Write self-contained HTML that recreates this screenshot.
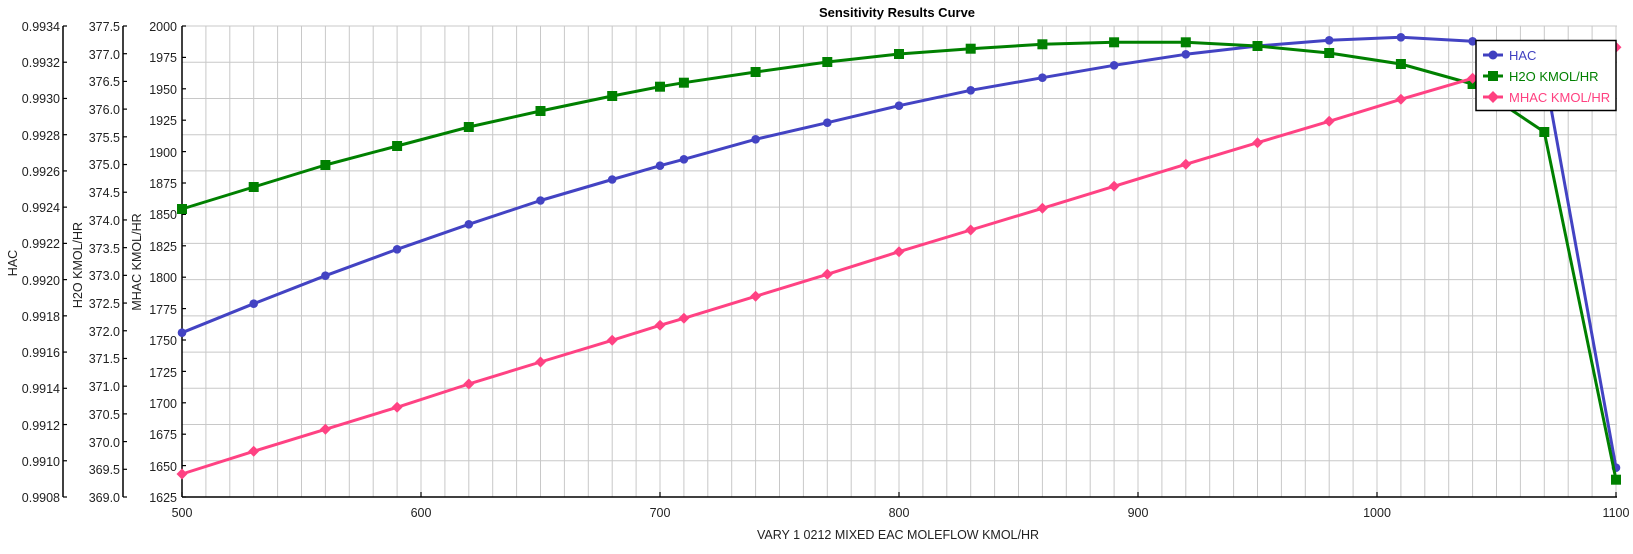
<!DOCTYPE html>
<html><head><meta charset="utf-8"><style>
html,body{margin:0;padding:0;background:#fff;}
svg{display:block;font-family:"Liberation Sans",sans-serif;}
</style></head><body>
<svg id="s" width="1633" height="554" viewBox="0 0 1633 554" xmlns="http://www.w3.org/2000/svg">
<g id="grid" stroke="#c8c8c8" stroke-width="1"></g>
<text x="897" y="17" text-anchor="middle" font-size="13" font-weight="bold">Sensitivity Results Curve</text>
<!-- axes -->
<g stroke="#000" stroke-width="1.5" fill="none">
<line x1="182" y1="26" x2="182" y2="497"/>
<line x1="182" y1="497" x2="1617" y2="497"/>
<line x1="63" y1="26" x2="63" y2="497"/>
<line x1="123" y1="26" x2="123" y2="497"/>
</g>
<g id="ticks" stroke="#000" stroke-width="1.2"></g>
<g font-size="12.5" fill="#222" text-anchor="end">
<text x="60" y="31">0.9934</text><text x="60" y="67">0.9932</text><text x="60" y="103">0.9930</text><text x="60" y="140">0.9928</text><text x="60" y="176">0.9926</text><text x="60" y="212">0.9924</text><text x="60" y="248">0.9922</text><text x="60" y="285">0.9920</text><text x="60" y="321">0.9918</text><text x="60" y="357">0.9916</text><text x="60" y="393">0.9914</text><text x="60" y="430">0.9912</text><text x="60" y="466">0.9910</text><text x="60" y="502">0.9908</text>
<text x="120" y="31">377.5</text><text x="120" y="59">377.0</text><text x="120" y="86">376.5</text><text x="120" y="114">376.0</text><text x="120" y="142">375.5</text><text x="120" y="169">375.0</text><text x="120" y="197">374.5</text><text x="120" y="225">374.0</text><text x="120" y="253">373.5</text><text x="120" y="280">373.0</text><text x="120" y="308">372.5</text><text x="120" y="336">372.0</text><text x="120" y="363">371.5</text><text x="120" y="391">371.0</text><text x="120" y="419">370.5</text><text x="120" y="447">370.0</text><text x="120" y="474">369.5</text><text x="120" y="502">369.0</text>
<text x="177" y="31">2000</text><text x="177" y="62">1975</text><text x="177" y="94">1950</text><text x="177" y="125">1925</text><text x="177" y="157">1900</text><text x="177" y="188">1875</text><text x="177" y="219">1850</text><text x="177" y="251">1825</text><text x="177" y="282">1800</text><text x="177" y="314">1775</text><text x="177" y="345">1750</text><text x="177" y="377">1725</text><text x="177" y="408">1700</text><text x="177" y="439">1675</text><text x="177" y="471">1650</text><text x="177" y="502">1625</text>
</g>
<g font-size="12.5" fill="#222" text-anchor="middle">
<text x="182" y="517">500</text><text x="421" y="517">600</text><text x="660" y="517">700</text><text x="899" y="517">800</text><text x="1138" y="517">900</text><text x="1377" y="517">1000</text><text x="1616" y="517">1100</text>
<text x="898" y="539">VARY   1 0212 MIXED EAC MOLEFLOW KMOL/HR</text>
<text transform="translate(17,263) rotate(-90)">HAC</text>
<text transform="translate(82,265) rotate(-90)">H2O KMOL/HR</text>
<text transform="translate(141,262) rotate(-90)">MHAC KMOL/HR</text>
</g>
<g id="series" stroke-width="3" fill="none" stroke-linejoin="round"></g>
<g id="leg">
<rect x="1476" y="40.5" width="140" height="70" fill="#fff" stroke="#000" stroke-width="1.5"/>
<line x1="1483" y1="55" x2="1503" y2="55" stroke="#4040c0" stroke-width="3"/><circle cx="1493" cy="55" r="4.5" fill="#4040c0"/>
<text x="1509" y="60" font-size="13" fill="#4040c0">HAC</text>
<line x1="1483" y1="76" x2="1503" y2="76" stroke="#008000" stroke-width="3"/><rect x="1488" y="71" width="10" height="10" fill="#008000"/>
<text x="1509" y="81" font-size="13" fill="#008000">H2O KMOL/HR</text>
<line x1="1483" y1="97" x2="1503" y2="97" stroke="#ff4080" stroke-width="3"/><polygon points="1493,91 1499,97 1493,103 1487,97" fill="#ff4080"/>
<text x="1509" y="102" font-size="13" fill="#ff4080">MHAC KMOL/HR</text>
</g>
<script>
(function(){
var NS="http://www.w3.org/2000/svg";
function el(p,t,a){var e=document.createElementNS(NS,t);for(var k in a)e.setAttribute(k,a[k]);p.appendChild(e);return e;}
var g=document.getElementById('grid');
for(var k=1;k<=60;k++){var x=182+k*1434/60;el(g,'line',{x1:x,y1:26,x2:x,y2:497});}
for(var k=0;k<13;k++){var y=26+k*471/13;el(g,'line',{x1:182,y1:y,x2:1617,y2:y});}
var t=document.getElementById('ticks');
for(var k=0;k<=13;k++){var y=26+k*471/13;el(t,'line',{x1:63,y1:y,x2:67,y2:y});}
for(var k=0;k<=17;k++){var y=26+k*471/17;el(t,'line',{x1:123,y1:y,x2:127,y2:y});}
for(var k=0;k<=15;k++){var y=26+k*471/15;el(t,'line',{x1:182,y1:y,x2:186,y2:y});}
for(var k=0;k<=6;k++){var x=182+k*239;el(t,'line',{x1:x,y1:497,x2:x,y2:492});}
var xs=[500,530,560,590,620,650,680,700,710,740,770,800,830,860,890,920,950,980,1010,1040,1070,1100];
function px(v){return 182+(v-500)*1434/600;}
var blue=[332.7,303.7,275.7,249.3,224.3,200.5,179.5,165.7,159.3,139.3,122.7,105.7,90.3,77.7,65.3,54.3,46,40.3,37.3,41.3,71,467.7];
var green=[209,187,165,146,127,111,96,86.7,82.7,72,62,54,48.7,44.3,42.3,42.3,46,53,64,84,132,479.7];
var pink=[474,451.3,429.3,407.3,384,362,340.3,325.3,318.3,296.3,274.3,251.7,230,208.3,186.3,164.3,142.7,121.3,99.3,78.3,57,47.3];
var s=document.getElementById('series');
function draw(ys,c,m){var pts=xs.map(function(v,i){return px(v)+','+ys[i];}).join(' ');
el(s,'polyline',{points:pts,stroke:c});
xs.forEach(function(v,i){var x=px(v),y=ys[i];
if(m=='c')el(s,'circle',{cx:x,cy:y,r:4.3,fill:c,stroke:'none'});
else if(m=='s')el(s,'rect',{x:x-5,y:y-5,width:10,height:10,fill:c,stroke:'none'});
else el(s,'polygon',{points:(x)+','+(y-5.5)+' '+(x+5.5)+','+y+' '+x+','+(y+5.5)+' '+(x-5.5)+','+y,fill:c,stroke:'none'});});}
draw(blue,'#4343c3','c');draw(green,'#008000','s');draw(pink,'#ff4283','d');
var leg=document.getElementById('leg');leg.parentNode.appendChild(leg);
})();
</script>
</svg>
</body></html>
